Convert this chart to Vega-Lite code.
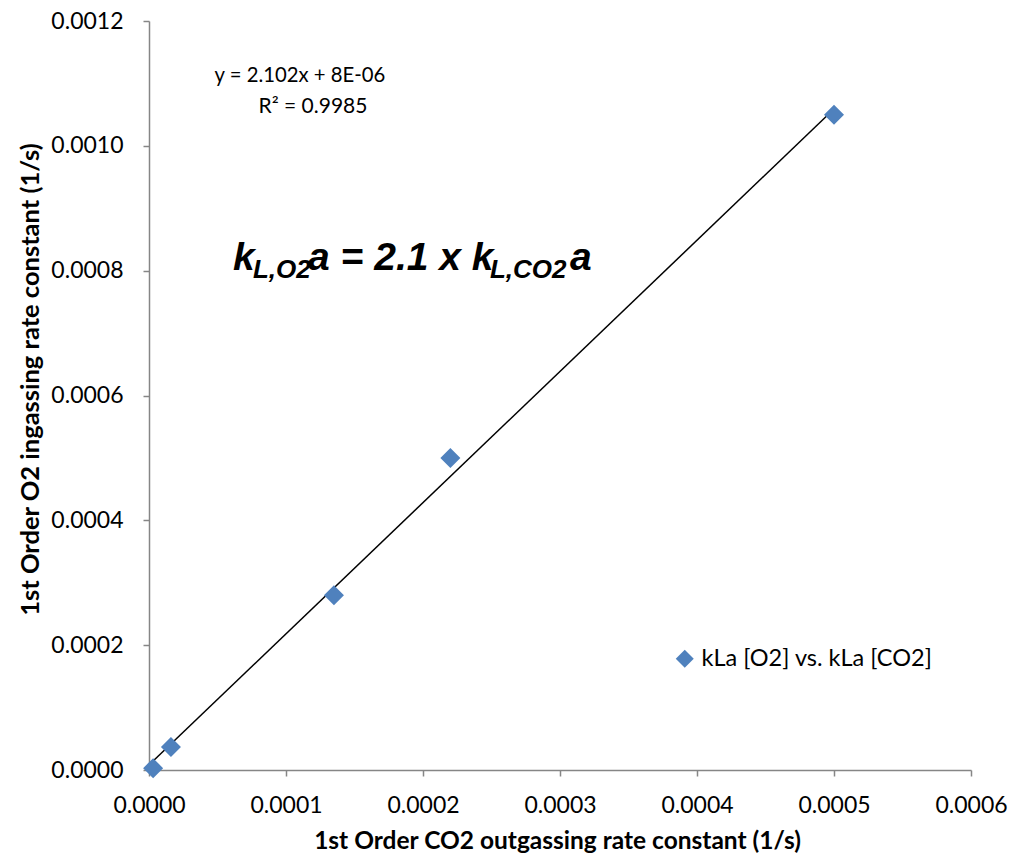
{
  "$schema": "https://vega.github.io/schema/vega-lite/v6.json",
  "width": 822,
  "height": 749,
  "autosize": {"type": "none"},
  "padding": {"left": 149, "top": 21, "right": 49, "bottom": 90},
  "background": "white",
  "config": {
    "view": {"stroke": null},
    "font": "Lato",
    "axis": {
      "grid": false,
      "domainColor": "#868686",
      "tickColor": "#868686",
      "domainWidth": 1.5,
      "tickWidth": 1.5,
      "tickSize": 6,
      "labelFont": "Lato",
      "labelFontSize": 23,
      "labelColor": "#000000",
      "labelFlush": false,
      "labelOverlap": false,
      "titleFont": "Lato",
      "titleFontWeight": "bold",
      "titleColor": "#000000"
    }
  },
  "datasets": {
    "kla": [
      {"kla_co2": 0.000003, "kla_o2": 0.000003},
      {"kla_co2": 0.000016, "kla_o2": 0.000037},
      {"kla_co2": 0.000135, "kla_o2": 0.00028},
      {"kla_co2": 0.00022, "kla_o2": 0.0005},
      {"kla_co2": 0.0005, "kla_o2": 0.00105}
    ],
    "trend": [
      {"kla_co2": 0.000003, "kla_o2": 0.0000143},
      {"kla_co2": 0.0005, "kla_o2": 0.001059}
    ],
    "fit_text": [
      {"x": 0.0001102, "y": 0.0011023, "label": "y = 2.102x + 8E-06", "size": 20.3},
      {"x": 0.0001197, "y": 0.0010526, "label": "R² = 0.9985", "size": 21}
    ],
    "eq_main": [
      {"x": 0.0000613, "y": 0.000801, "label": "k"},
      {"x": 0.0001161, "y": 0.000801, "label": "a = 2.1 x k"},
      {"x": 0.0003073, "y": 0.000801, "label": "a"}
    ],
    "eq_sub": [
      {"x": 0.0000759, "y": 0.000788, "label": "L,O2"},
      {"x": 0.0002489, "y": 0.000788, "label": "L,CO2"}
    ]
  },
  "layer": [
    {
      "data": {"name": "trend"},
      "mark": {"type": "line", "color": "#000000", "strokeWidth": 1.5},
      "encoding": {
        "x": {"field": "kla_co2", "type": "quantitative"},
        "y": {"field": "kla_o2", "type": "quantitative"}
      }
    },
    {
      "data": {"name": "kla"},
      "transform": [{"calculate": "'kLa [O2] vs. kLa [CO2]'", "as": "series"}],
      "mark": {"type": "point", "shape": "diamond", "filled": true, "size": 400, "opacity": 1},
      "encoding": {
        "x": {
          "field": "kla_co2",
          "type": "quantitative",
          "scale": {"domain": [0, 0.0006], "nice": false},
          "axis": {
            "values": [0, 0.0001, 0.0002, 0.0003, 0.0004, 0.0005, 0.0006],
            "format": ".4f",
            "labelPadding": 18,
            "title": "1st Order CO2 outgassing rate constant (1/s)",
            "titleFontSize": 24.5,
            "titleX": 408,
            "titleY": 78,
            "titleAlign": "center",
            "titleBaseline": "alphabetic"
          }
        },
        "y": {
          "field": "kla_o2",
          "type": "quantitative",
          "scale": {"domain": [0, 0.0012], "nice": false},
          "axis": {
            "values": [0, 0.0002, 0.0004, 0.0006, 0.0008, 0.001, 0.0012],
            "format": ".4f",
            "labelPadding": 20,
            "title": "1st Order O2 ingassing rate constant (1/s)",
            "titleFontSize": 25.5,
            "titleAngle": -90,
            "titleX": -111,
            "titleY": 358,
            "titleAlign": "center",
            "titleBaseline": "alphabetic"
          }
        },
        "color": {
          "field": "series",
          "type": "nominal",
          "scale": {"range": ["#4F81BD"]},
          "legend": {
            "title": null,
            "orient": "none",
            "legendX": 524,
            "legendY": 626,
            "symbolType": "diamond",
            "symbolSize": 324,
            "symbolOpacity": 1,
            "labelFont": "Lato",
            "labelFontSize": 23.5,
            "labelColor": "#000000",
            "labelOffset": 5,
            "labelLimit": 0
          }
        }
      }
    },
    {
      "data": {"name": "fit_text"},
      "mark": {"type": "text", "align": "center", "baseline": "alphabetic", "font": "Lato", "color": "#000000"},
      "encoding": {
        "x": {"field": "x", "type": "quantitative"},
        "y": {"field": "y", "type": "quantitative"},
        "text": {"field": "label"},
        "size": {"field": "size", "type": "quantitative", "scale": null}
      }
    },
    {
      "data": {"name": "eq_main"},
      "mark": {"type": "text", "align": "left", "baseline": "alphabetic", "fontSize": 39, "font": "Liberation Sans", "fontWeight": "bold", "fontStyle": "italic", "color": "#000000"},
      "encoding": {
        "x": {"field": "x", "type": "quantitative"},
        "y": {"field": "y", "type": "quantitative"},
        "text": {"field": "label"}
      }
    },
    {
      "data": {"name": "eq_sub"},
      "mark": {"type": "text", "align": "left", "baseline": "alphabetic", "fontSize": 26, "font": "Liberation Sans", "fontWeight": "bold", "fontStyle": "italic", "color": "#000000"},
      "encoding": {
        "x": {"field": "x", "type": "quantitative"},
        "y": {"field": "y", "type": "quantitative"},
        "text": {"field": "label"}
      }
    }
  ]
}
